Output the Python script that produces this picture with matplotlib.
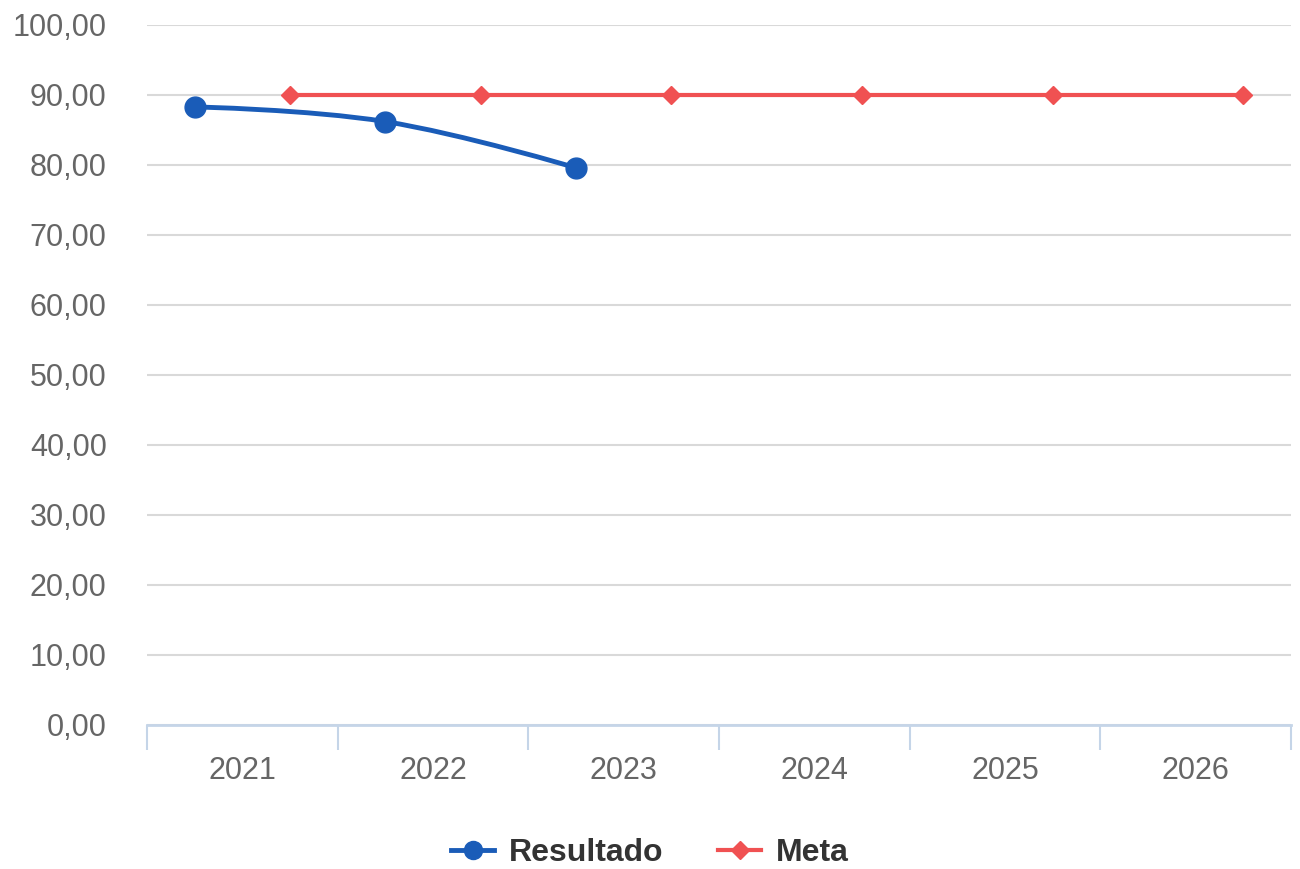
import matplotlib.pyplot as plt
from matplotlib.path import Path
from matplotlib.patches import PathPatch
from matplotlib.lines import Line2D

plt.rcParams['font.family'] = ['Liberation Sans', 'DejaVu Sans']

anos = ['2021', '2022', '2023', '2024', '2025', '2026']
resultado = [88.3, 86.2, 79.6]
meta = [90, 90, 90, 90, 90, 90]

azul = '#1a5cb8'
vermelho = '#f05152'


def spline_path(xs, ys, smoothing=1.5):
    # curva suave (estilo spline) entre os pontos
    verts = [(xs[0], ys[0])]
    codes = [Path.MOVETO]
    n = len(xs)
    conts = []
    for i in range(n):
        if i == 0 or i == n - 1:
            conts.append(((xs[i], ys[i]), (xs[i], ys[i])))
            continue
        lx = (smoothing * xs[i] + xs[i - 1]) / (smoothing + 1)
        ly = (smoothing * ys[i] + ys[i - 1]) / (smoothing + 1)
        rx = (smoothing * xs[i] + xs[i + 1]) / (smoothing + 1)
        ry = (smoothing * ys[i] + ys[i + 1]) / (smoothing + 1)
        corr = ((ry - ly) * (rx - xs[i])) / (rx - lx) + ys[i] - ry
        ly += corr
        ry += corr
        conts.append(((lx, ly), (rx, ry)))
    for i in range(1, n):
        verts += [conts[i - 1][1], conts[i][0], (xs[i], ys[i])]
        codes += [Path.CURVE4] * 3
    return Path(verts, codes)


fig = plt.figure(figsize=(13, 8.69), dpi=100)
ax = fig.add_axes([147 / 1300, 1 - 725 / 869, (1291 - 147) / 1300, 700 / 869])

x_res = [i + 0.25 for i in range(len(resultado))]
x_meta = [i + 0.75 for i in range(len(meta))]

ax.add_patch(PathPatch(spline_path(x_res, resultado), facecolor='none',
                       edgecolor=azul, lw=3.5, zorder=3))
ax.plot(x_res, resultado, 'o', color=azul, markersize=15, zorder=4)
ax.plot(x_meta, meta, '-D', color=vermelho, lw=3, markersize=9.5, zorder=3)

ax.set_xlim(0, len(anos))
ax.set_ylim(0, 100)
ax.set_yticks(range(0, 101, 10))
ax.set_yticklabels([f'{v:.2f}'.replace('.', ',') for v in range(0, 101, 10)])
ax.grid(axis='y', color='#d9d9d9', lw=1.5)
ax.set_axisbelow(True)

ax.set_xticks(range(len(anos) + 1))
ax.set_xticklabels([])
ax.set_xticks([i + 0.5 for i in range(len(anos))], minor=True)
ax.set_xticklabels(anos, minor=True)
ax.tick_params(axis='x', which='major', length=18, width=1.5, color='#c5d5e8')
ax.tick_params(axis='x', which='minor', length=0, pad=22, labelsize=22, labelcolor='#666666')
ax.tick_params(axis='y', length=0, pad=29, labelsize=22, labelcolor='#666666')

for s in ['top', 'right', 'left']:
    ax.spines[s].set_visible(False)
ax.spines['bottom'].set_color('#c5d5e8')
ax.spines['bottom'].set_linewidth(2)

handles = [Line2D([], [], color=azul, lw=3.5, marker='o', markersize=13),
           Line2D([], [], color=vermelho, lw=3, marker='D', markersize=9)]
fig.legend(handles, ['Resultado', 'Meta'], loc='center', bbox_to_anchor=(0.5, 1 - 853 / 869),
           ncol=2, frameon=False, handlelength=1.35, handletextpad=0.47, columnspacing=1.7,
           prop={'weight': 'bold', 'size': 23}, labelcolor='#333333')

fig.savefig('out.png', dpi=100)
